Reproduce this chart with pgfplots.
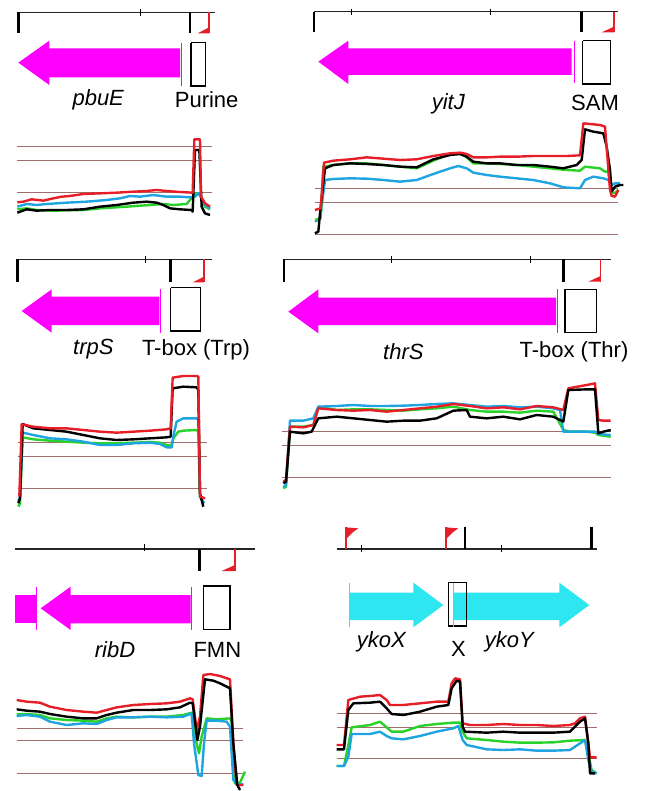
\documentclass[border=0pt]{standalone}
\usepackage{pgfplots}
\pgfplotsset{compat=1.18}
\usepackage{fontspec}
\setmainfont{Liberation Sans}
\definecolor{cred}{RGB}{230,30,40}
\definecolor{cgreen}{RGB}{40,210,40}
\definecolor{cblue}{RGB}{30,165,225}
\definecolor{cbrown}{RGB}{160,110,110}
\definecolor{cmag}{RGB}{255,0,255}
\definecolor{ccyan}{RGB}{45,230,240}
\newcommand\lab{\fontsize{22}{26}\selectfont}
\pgfplotsset{
  panel/.style={hide axis, x=0.33333pt, y=0.33333pt, y dir=reverse, clip=false, anchor=north west, xmin=0, ymin=0},
  ruler/.style={black!85, line width=1.4pt},
  bigtick/.style={black, line width=2.8pt},
  smalltick/.style={black, line width=1pt},
  flag/.style={cred, line width=1.1pt},
  flagfill/.style={fill=cred, draw=none},
  gene/.style={fill=cmag, draw=none},
  gline/.style={cmag, line width=0.9pt},
  rbox/.style={black, line width=1.3pt},
  ref/.style={cbrown, line width=1.4pt},
  dl/.style={line width=2.4pt, line join=round},
}
\begin{document}
\begin{tikzpicture}
\path[use as bounding box] (0,0) rectangle (651pt,-791pt);
% ---------------- Panel 1: pbuE
\begin{axis}[panel, at={(0pt,0pt)}, xmax=780, ymax=690]
\addplot[ruler] coordinates {(55,37) (645,37)};
\addplot[bigtick] coordinates {(55,37) (55,100)};
\addplot[bigtick] coordinates {(570,37) (570,100)};
\addplot[smalltick] coordinates {(422,28) (422,48)};
\addplot[flag] coordinates {(627,37) (627,100)};
\addplot[flagfill] coordinates {(593,100) (627,100) (627,82)} --cycle;
\addplot[gene] coordinates {(55,188) (148,122) (148,145) (540,145) (540,232) (148,232) (148,255)} --cycle;
\addplot[gline] coordinates {(545,128) (545,258)};
\addplot[rbox] coordinates {(573,128) (616,128) (616,258) (573,258) (573,128)};
\node[font=\lab] at (axis cs:295,300) {\textit{pbuE}};
\node[font=\lab] at (axis cs:620,300) {Purine};
\addplot[ref] coordinates {(52,440) (636,440)};
\addplot[ref] coordinates {(52,481) (636,481)};
\addplot[ref] coordinates {(52,578) (636,578)};
\addplot[dl, cgreen] coordinates {(52,628) (80,625) (110,630) (160,632) (250,630) (300,625) (380,620) (450,615) (490,612) (520,615) (560,612) (578,590) (590,580) (600,580) (605,600) (615,620) (630,628)};
\addplot[dl, cblue] coordinates {(52,620) (80,612) (110,615) (140,612) (200,608) (260,605) (320,600) (360,595) (390,588) (420,590) (460,585) (500,590) (540,590) (570,592) (585,590) (595,580) (605,595) (615,615) (630,625)};
\addplot[dl, black] coordinates {(52,638) (80,628) (110,632) (150,630) (200,630) (250,628) (300,620) (350,615) (400,608) (440,605) (470,608) (490,615) (510,625) (540,628) (575,630) (578,635) (585,450) (598,450) (605,620) (615,640) (630,645)};
\addplot[dl, cred] coordinates {(52,607) (70,605) (95,598) (130,602) (160,595) (185,590) (210,588) (250,582) (300,580) (350,578) (400,575) (440,573) (470,570) (500,573) (540,576) (578,578) (583,418) (600,418) (603,590) (615,610) (630,620)};
\end{axis}
% ---------------- Panel 2: yitJ
\begin{axis}[panel, at={(300pt,0pt)}, xmax=1053, ymax=720]
\addplot[ruler] coordinates {(42,35) (955,35)};
\addplot[bigtick] coordinates {(42,35) (42,97)};
\addplot[bigtick] coordinates {(845,35) (845,97)};
\addplot[smalltick] coordinates {(155,26) (155,46)};
\addplot[smalltick] coordinates {(572,26) (572,46)};
\addplot[flag] coordinates {(942,35) (942,97)};
\addplot[flagfill] coordinates {(905,97) (942,97) (942,80)} --cycle;
\addplot[gene] coordinates {(55,185) (145,122) (145,145) (815,145) (815,225) (145,225) (145,252)} --cycle;
\addplot[gline] coordinates {(822,122) (822,248)};
\addplot[rbox] coordinates {(848,122) (932,122) (932,252) (848,252) (848,122)};
\node[font=\lab] at (axis cs:445,310) {\textit{yitJ}};
\node[font=\lab] at (axis cs:885,310) {SAM};
\addplot[ref] coordinates {(45,565) (955,565)};
\addplot[ref] coordinates {(45,607) (955,607)};
\addplot[ref] coordinates {(45,703) (955,703)};
\addplot[dl, cblue] coordinates {(45,665) (60,655) (75,540) (100,537) (150,535) (200,536) (250,540) (300,545) (350,540) (400,522) (450,505) (475,498) (500,505) (520,518) (560,525) (600,530) (650,535) (700,540) (750,550) (790,562) (840,565) (855,540) (880,530) (910,535) (925,540) (935,555) (945,550) (960,550)};
\addplot[dl, cgreen] coordinates {(45,660) (62,655) (70,500) (100,495) (150,490) (200,490) (250,495) (300,500) (350,505) (400,482) (450,462) (480,460) (500,472) (520,490) (560,490) (600,492) (650,495) (700,500) (750,505) (800,510) (840,512) (855,500) (900,505) (915,515) (925,515) (935,580) (945,578) (955,570)};
\addplot[dl, black] coordinates {(45,700) (55,695) (60,640) (75,505) (100,495) (150,490) (200,492) (250,495) (300,500) (350,502) (400,478) (450,465) (480,462) (500,470) (520,485) (560,490) (600,490) (650,495) (700,495) (750,500) (790,505) (830,495) (845,480) (855,388) (880,395) (910,400) (920,440) (930,510) (935,575) (945,560) (960,555) (970,555)};
\addplot[dl, cred] coordinates {(45,630) (62,625) (72,488) (100,482) (150,478) (200,472) (250,476) (300,480) (350,478) (400,468) (450,460) (480,458) (500,462) (520,472) (560,472) (600,470) (650,470) (700,468) (750,468) (800,468) (840,466) (850,370) (900,375) (915,380) (930,570) (935,588) (945,590) (955,570)};
\end{axis}
% ---------------- Panel 3: trpS
\begin{axis}[panel, at={(0pt,-250pt)}, xmax=780, ymax=780]
\addplot[ruler] coordinates {(52,28) (635,28)};
\addplot[bigtick] coordinates {(52,28) (52,97)};
\addplot[bigtick] coordinates {(512,28) (512,97)};
\addplot[smalltick] coordinates {(435,19) (435,39)};
\addplot[flag] coordinates {(612,28) (612,97)};
\addplot[flagfill] coordinates {(578,97) (612,97) (612,80)} --cycle;
\addplot[gene] coordinates {(65,183) (155,118) (155,140) (478,140) (478,225) (155,225) (155,248)} --cycle;
\addplot[gline] coordinates {(482,118) (482,248)};
\addplot[rbox] coordinates {(512,113) (602,113) (602,243) (512,243) (512,113)};
\node[font=\lab] at (axis cs:280,298) {\textit{trpS}};
\node[font=\lab] at (axis cs:588,298) {T-box (Trp)};
\addplot[ref] coordinates {(55,578) (620,578)};
\addplot[ref] coordinates {(55,620) (620,620)};
\addplot[ref] coordinates {(55,715) (620,715)};
\addplot[dl, cgreen] coordinates {(55,770) (60,760) (68,562) (100,568) (150,572) (200,575) (250,578) (300,580) (350,580) (400,578) (450,576) (480,578) (500,585) (515,585) (520,565) (535,545) (550,542) (590,540) (595,545) (600,740) (612,760)};
\addplot[dl, cblue] coordinates {(55,755) (60,740) (68,548) (100,555) (150,565) (200,568) (250,575) (300,585) (350,585) (400,580) (450,578) (480,582) (500,592) (515,592) (520,558) (530,515) (550,505) (590,505) (595,510) (600,740) (612,760)};
\addplot[dl, black] coordinates {(55,760) (60,745) (68,522) (100,535) (150,540) (200,545) (250,555) (300,565) (350,570) (400,568) (450,565) (500,562) (512,560) (518,415) (550,410) (590,412) (595,420) (600,730) (610,770)};
\addplot[dl, cred] coordinates {(58,740) (65,523) (100,530) (150,535) (200,535) (250,540) (300,545) (350,548) (400,545) (450,542) (500,538) (512,535) (518,383) (550,378) (590,378) (595,380) (600,740) (615,745)};
\end{axis}
% ---------------- Panel 4: thrS
\begin{axis}[panel, at={(270pt,-250pt)}, xmax=1143, ymax=750]
\addplot[ruler] coordinates {(42,28) (1022,28)};
\addplot[bigtick] coordinates {(42,28) (42,95)};
\addplot[bigtick] coordinates {(880,28) (880,95)};
\addplot[smalltick] coordinates {(365,19) (365,39)};
\addplot[smalltick] coordinates {(782,19) (782,39)};
\addplot[flag] coordinates {(992,28) (992,95)};
\addplot[flagfill] coordinates {(955,95) (992,95) (992,78)} --cycle;
\addplot[gene] coordinates {(55,185) (145,118) (145,143) (858,143) (858,225) (145,225) (145,250)} --cycle;
\addplot[gline] coordinates {(862,118) (862,250)};
\addplot[rbox] coordinates {(885,118) (980,118) (980,248) (885,248) (885,118)};
\node[font=\lab] at (axis cs:400,305) {\textit{thrS}};
\node[font=\lab] at (axis cs:912,305) {T-box (Thr)};
\addplot[ref] coordinates {(35,545) (1022,545)};
\addplot[ref] coordinates {(35,587) (1022,587)};
\addplot[ref] coordinates {(35,683) (1022,683)};
\addplot[dl, cgreen] coordinates {(40,715) (48,710) (60,530) (100,530) (130,525) (145,470) (200,480) (250,478) (300,478) (350,480) (400,482) (450,478) (500,475) (550,470) (600,480) (650,485) (700,485) (750,488) (800,482) (850,485) (880,540) (900,545) (950,545) (975,548) (985,555) (1022,560)};
\addplot[dl, cblue] coordinates {(40,712) (48,705) (60,512) (100,512) (130,505) (145,470) (200,468) (250,465) (300,468) (350,468) (400,467) (450,465) (500,462) (550,460) (600,465) (650,470) (700,468) (750,472) (800,470) (850,475) (870,480) (880,545) (900,545) (950,545) (975,545) (985,552) (1022,555)};
\addplot[dl, cred] coordinates {(40,695) (48,690) (60,530) (100,532) (130,525) (145,475) (200,480) (250,482) (300,480) (350,485) (400,480) (450,475) (500,470) (550,462) (600,468) (650,475) (700,472) (750,478) (800,468) (850,472) (880,480) (895,415) (950,405) (975,400) (985,510) (1000,512) (1022,512)};
\addplot[dl, black] coordinates {(40,700) (48,695) (60,545) (100,550) (125,545) (145,505) (200,500) (250,505) (300,510) (350,515) (400,512) (450,512) (500,505) (550,482) (590,480) (600,500) (650,505) (700,500) (750,508) (800,495) (850,500) (880,515) (895,420) (950,418) (975,418) (985,550) (1000,545) (1022,540)};
\end{axis}
% ---------------- Panel 5: ribD
\begin{axis}[panel, at={(0pt,-510pt)}, xmax=780, ymax=843]
\addplot[ruler] coordinates {(45,117) (765,117)};
\addplot[smalltick] coordinates {(432,103) (432,124)};
\addplot[bigtick] coordinates {(598,117) (598,183)};
\addplot[flag] coordinates {(705,117) (705,183)};
\addplot[flagfill] coordinates {(665,183) (705,183) (705,165)} --cycle;
\addplot[gene] coordinates {(45,255) (108,255) (108,340) (45,340)} --cycle;
\addplot[gline] coordinates {(110,230) (110,360)};
\addplot[gene] coordinates {(122,295) (212,230) (212,255) (572,255) (572,340) (212,340) (212,360)} --cycle;
\addplot[gline] coordinates {(575,230) (575,360)};
\addplot[rbox] coordinates {(610,228) (690,228) (690,358) (610,358) (610,228)};
\node[font=\lab] at (axis cs:345,420) {\textit{ribD}};
\node[font=\lab] at (axis cs:652,420) {FMN};
\addplot[ref] coordinates {(50,655) (728,655)};
\addplot[ref] coordinates {(50,692) (728,692)};
\addplot[ref] coordinates {(50,790) (728,790)};
\addplot[dl, cgreen] coordinates {(50,612) (80,612) (120,615) (150,625) (200,630) (250,632) (290,635) (320,625) (350,620) (400,622) (450,620) (500,620) (550,615) (575,608) (585,680) (597,730) (605,680) (620,625) (650,628) (690,625) (695,640) (705,820) (720,818) (735,785)};
\addplot[dl, cblue] coordinates {(50,618) (80,615) (120,620) (150,635) (200,645) (250,640) (290,642) (320,630) (350,622) (400,622) (450,620) (500,622) (550,620) (575,610) (582,700) (595,795) (605,798) (612,700) (620,632) (650,632) (680,635) (690,650) (700,810) (715,825) (730,822)};
\addplot[dl, cred] coordinates {(50,570) (80,575) (120,578) (150,590) (200,600) (250,605) (290,608) (320,600) (350,592) (400,585) (450,582) (500,580) (540,575) (570,565) (578,568) (590,660) (600,620) (610,495) (630,492) (660,498) (690,508) (700,700) (710,825) (730,825)};
\addplot[dl, black] coordinates {(50,598) (80,602) (120,605) (150,612) (200,620) (250,625) (290,625) (320,615) (350,608) (400,600) (450,600) (500,598) (540,592) (570,578) (578,580) (592,690) (600,650) (615,508) (640,512) (660,520) (680,530) (690,535) (700,700) (712,825) (720,840)};
\end{axis}
% ---------------- Panel 6: ykoX / ykoY
\begin{axis}[panel, at={(320pt,-510pt)}, xmax=993, ymax=843]
\addplot[ruler] coordinates {(50,117) (830,117)};
\addplot[smalltick] coordinates {(125,105) (125,126)};
\addplot[smalltick] coordinates {(543,105) (543,126)};
\addplot[bigtick] coordinates {(435,50) (435,117)};
\addplot[bigtick] coordinates {(815,50) (815,117)};
\addplot[flag] coordinates {(78,52) (78,117)};
\addplot[flagfill] coordinates {(78,52) (115,55) (98,67) (78,87)} --cycle;
\addplot[flag] coordinates {(378,52) (378,117)};
\addplot[flagfill] coordinates {(378,52) (415,55) (398,67) (378,87)} --cycle;
\addplot[fill=ccyan, draw=none] coordinates {(88,248) (280,248) (280,218) (370,285) (280,352) (280,330) (88,330)} --cycle;
\addplot[ccyan, line width=0.9pt] coordinates {(88,218) (88,352)};
\addplot[fill=ccyan, draw=none] coordinates {(402,248) (718,248) (718,218) (808,285) (718,352) (718,330) (402,330)} --cycle;
\addplot[rbox] coordinates {(385,218) (440,218) (440,348) (385,348) (385,218)};
\addplot[ccyan, line width=0.9pt] coordinates {(400,218) (400,352)};
\node[font=\lab] at (axis cs:185,395) {\textit{ykoX}};
\node[font=\lab] at (axis cs:415,418) {X};
\node[font=\lab] at (axis cs:570,395) {\textit{ykoY}};
\addplot[ref] coordinates {(50,610) (830,610)};
\addplot[ref] coordinates {(50,652) (830,652)};
\addplot[ref] coordinates {(50,745) (830,745)};
\addplot[dl, cgreen] coordinates {(50,768) (72,768) (85,705) (95,652) (150,645) (180,635) (200,652) (215,665) (250,665) (300,648) (350,642) (400,638) (420,638) (428,665) (440,685) (500,690) (550,695) (600,698) (650,698) (700,697) (750,692) (795,690) (805,730) (815,780) (830,790)};
\addplot[dl, cblue] coordinates {(50,768) (72,768) (85,740) (95,672) (150,672) (180,665) (200,678) (215,685) (250,688) (300,678) (350,665) (400,655) (415,648) (428,690) (440,705) (500,718) (550,720) (600,718) (650,722) (700,722) (750,720) (780,700) (795,690) (805,750) (815,785) (830,790)};
\addplot[dl, cred] coordinates {(50,705) (72,705) (85,570) (120,560) (150,558) (180,555) (200,570) (210,585) (250,585) (300,580) (350,575) (385,575) (395,520) (405,505) (420,508) (428,640) (450,645) (500,645) (550,642) (600,645) (650,645) (700,648) (750,645) (765,640) (780,625) (795,620) (800,660) (810,742) (830,742)};
\addplot[dl, black] coordinates {(50,718) (72,718) (85,600) (100,580) (150,578) (180,575) (200,595) (215,612) (250,615) (300,605) (350,590) (385,585) (395,535) (410,512) (420,515) (428,650) (435,665) (500,668) (550,665) (600,668) (650,668) (700,668) (750,665) (765,650) (780,635) (795,625) (805,700) (810,790) (825,790)};
\end{axis}
\end{tikzpicture}
\end{document}
